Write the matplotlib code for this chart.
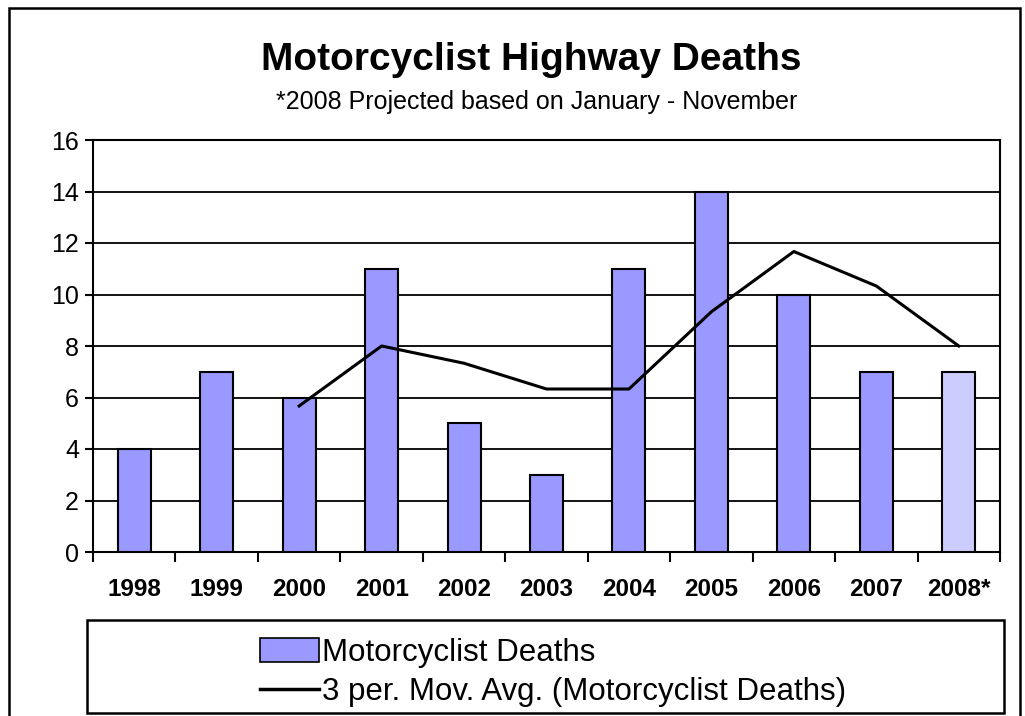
import matplotlib.pyplot as plt
from matplotlib.patches import Rectangle
from matplotlib.lines import Line2D
import numpy as np

years = ["1998", "1999", "2000", "2001", "2002", "2003", "2004", "2005", "2006", "2007", "2008*"]
deaths = [4, 7, 6, 11, 5, 3, 11, 14, 10, 7, 7]
# 3 period moving average (starts at 2000)
avg_years = ["2000", "2001", "2002", "2003", "2004", "2005", "2006", "2007", "2008*"]
avg_values = [5.67, 8.0, 7.33, 6.33, 6.33, 9.33, 11.67, 10.33, 8.0]

plt.rcParams['font.family'] = ['Liberation Sans', 'DejaVu Sans']

fig = plt.figure(figsize=(10.25, 7.16), dpi=100)
ax = fig.add_axes([93/1025, 1 - 552/716, (1000 - 93)/1025, (552 - 140)/716])

x = np.arange(len(years))
colors = ['#9999FF'] * (len(years) - 1) + ['#CCCCFF']
bars = ax.bar(x, deaths, width=0.4, color=colors, edgecolor='black', linewidth=1.5, zorder=3)

avg_x = [years.index(y) for y in avg_years]
ax.plot(avg_x, avg_values, color='black', linewidth=2.2, zorder=4)

ax.set_xlim(-0.5, len(years) - 0.5)
ax.set_ylim(0, 16)
ax.set_yticks(range(0, 17, 2))
ax.yaxis.grid(True, color='black', linewidth=1.3, zorder=0)
ax.set_axisbelow(True)

ax.set_xticks(x)
ax.set_xticklabels(years, fontsize=17.5, fontweight='bold')
ax.set_xticks(np.arange(-0.5, len(years), 1), minor=True)
ax.tick_params(axis='x', which='major', length=0, pad=19)
ax.tick_params(axis='x', which='minor', length=7, width=1.5, direction='out')
ax.tick_params(axis='y', labelsize=18, length=6, width=1.5, direction='out', pad=4)
for s in ax.spines.values():
    s.set_linewidth(1.5)

fig.text(0.518, 1 - 60/716, "Motorcyclist Highway Deaths", ha='center', va='center',
         fontsize=28, fontweight='bold')
fig.text(0.524, 1 - 102/716, "*2008 Projected based on January - November", ha='center',
         va='center', fontsize=18)

# outer chart frame
fig.patches.append(Rectangle((9/1025, -0.05), (1020 - 9)/1025, 1.05 - 8/716,
                             transform=fig.transFigure, fill=False, edgecolor='black',
                             linewidth=1.8))
# legend box
fig.patches.append(Rectangle((87/1025, 1 - 713/716), (1004 - 87)/1025, (713 - 620)/716,
                             transform=fig.transFigure, fill=False, edgecolor='black',
                             linewidth=1.8))

handles = [Rectangle((0, 0), 1, 1, facecolor='#9999FF', edgecolor='black', linewidth=1.2),
           Line2D([0], [0], color='black', linewidth=2.5)]
fig.legend(handles, ["Motorcyclist Deaths", "3 per. Mov. Avg. (Motorcyclist Deaths)"],
           loc='upper left', bbox_to_anchor=(238/1025, 1 - 616/716), frameon=False,
           fontsize=22.5, handlelength=1.9, handleheight=0.8, handletextpad=0.1,
           labelspacing=0.3, borderpad=0.2)

fig.savefig("out.png", dpi=100)
